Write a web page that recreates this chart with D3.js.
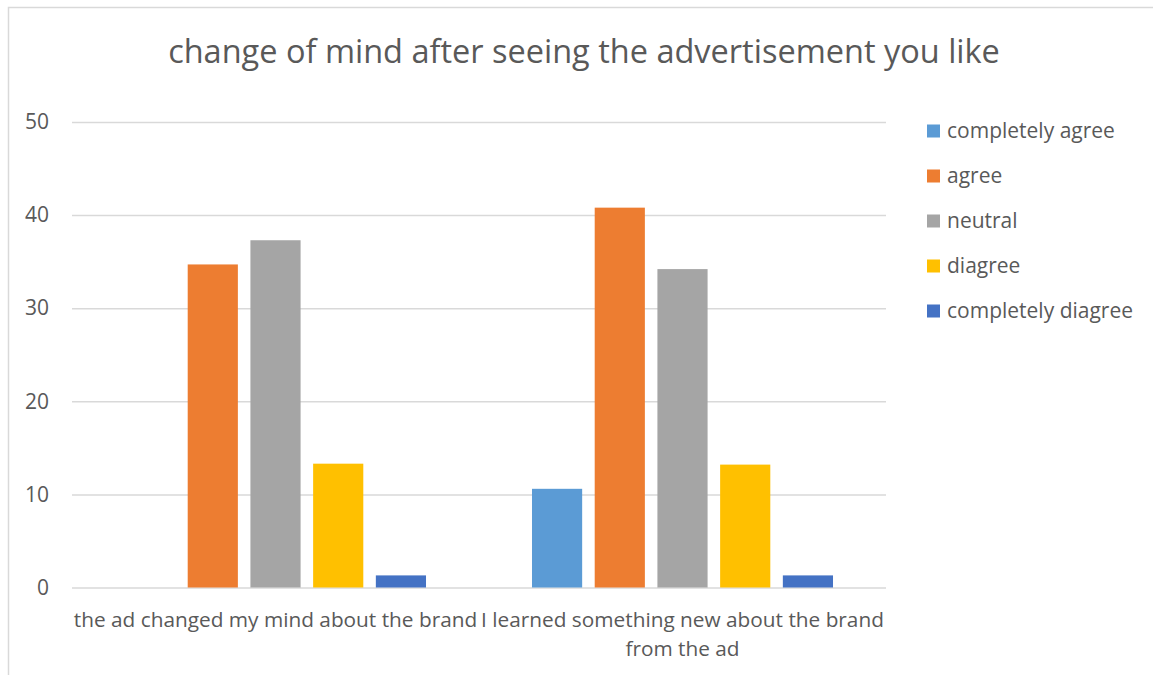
<!DOCTYPE html>
<html>
<head>
<meta charset="utf-8">
<script src="https://cdn.jsdelivr.net/npm/d3@7"></script>
<style>
  html, body { margin: 0; padding: 0; background: #fff; }
  svg { display: block; font-family: "Open Sans", "Noto Sans", sans-serif; }
</style>
</head>
<body>
<svg id="chart" width="1153" height="675"></svg>
<script>
// Survey statements on the x axis
const categories = [
  "the ad changed my mind about the brand",
  "I learned something new about the brand from the ad"
];
// Answer options (one bar each per statement)
const seriesNames = ["completely agree", "agree", "neutral", "diagree", "completely diagree"];
const seriesColors = ["#5B9BD5", "#ED7D31", "#A5A5A5", "#FFC000", "#4472C4"];
// Share of respondents per answer, one array per statement
const changedMindValues = [0, 34.7, 37.3, 13.3, 1.3];
const learnedNewValues = [10.6, 40.8, 34.2, 13.2, 1.3];
const yTicks = [0, 10, 20, 30, 40, 50];
const chartTitle = "change of mind after seeing the advertisement you like";

const valuesByCategory = [changedMindValues, learnedNewValues];

const svg = d3.select("#chart");
const textColor = "#595959";
const gridColor = "#D9D9D9";

// outer chart border (runs off the right and bottom edges)
svg.append("rect")
  .attr("x", 8.5).attr("y", 7.5)
  .attr("width", 1200).attr("height", 700)
  .attr("fill", "none").attr("stroke", gridColor).attr("stroke-width", 1.5);

const plot = { left: 72, right: 886, top: 122, bottom: 587.5 };

const x0 = d3.scaleBand().domain(categories).range([plot.left, plot.right]).padding(0);
const x1 = d3.scaleBand().domain(seriesNames).range([0, x0.bandwidth()])
  .paddingInner(0.2).paddingOuter(0.845);
const y = d3.scaleLinear().domain([0, 50]).range([plot.bottom, plot.top]);

// title
svg.append("text")
  .attr("x", 584).attr("y", 63)
  .attr("text-anchor", "middle")
  .attr("fill", textColor)
  .style("font-size", "32.5px")
  .text(chartTitle);

// horizontal gridlines + y labels via axis
const yAxis = d3.axisLeft(y).tickValues(yTicks).tickSize(-(plot.right - plot.left)).tickPadding(23);
const yG = svg.append("g").attr("transform", `translate(${plot.left},0)`).call(yAxis);
yG.select(".domain").remove();
yG.selectAll(".tick line").attr("stroke", gridColor).attr("stroke-width", 1.5);
yG.selectAll(".tick text")
  .attr("fill", textColor)
  .style("font-size", "21px")
  .style("font-family", "'Open Sans', sans-serif");

// bars
const groups = svg.append("g").selectAll("g")
  .data(categories)
  .join("g")
  .attr("transform", d => `translate(${x0(d)},0)`);

groups.selectAll("rect")
  .data((d, i) => seriesNames.map((s, j) => ({ s, v: valuesByCategory[i][j], c: seriesColors[j] })))
  .join("rect")
  .attr("x", d => x1(d.s))
  .attr("width", x1.bandwidth())
  .attr("y", d => y(d.v))
  .attr("height", d => y(0) - y(d.v))
  .attr("fill", d => d.c);

// category labels (wrapped to the band width)
const xAxis = d3.axisBottom(x0).tickSize(0).tickPadding(0);
const xG = svg.append("g").attr("transform", `translate(0,${plot.bottom})`).call(xAxis);
xG.select(".domain").remove();
xG.selectAll(".tick text")
  .attr("fill", textColor)
  .style("font-size", "20.8px")
  .style("font-family", "'Open Sans', sans-serif")
  .call(wrap, x0.bandwidth() + 8);

function wrap(sel, width) {
  sel.each(function () {
    const t = d3.select(this);
    const words = t.text().split(/\s+/);
    t.text(null);
    let line = [];
    let lineNo = 0;
    let tspan = t.append("tspan").attr("x", 0).attr("y", 39.5);
    for (const w of words) {
      line.push(w);
      tspan.text(line.join(" "));
      if (tspan.node().getComputedTextLength() > width && line.length > 1) {
        line.pop();
        tspan.text(line.join(" "));
        line = [w];
        lineNo++;
        tspan = t.append("tspan").attr("x", 0).attr("y", 39.5 + lineNo * 28.5).text(w);
      }
    }
    t.attr("dy", null);
  });
}

// legend
const legend = svg.append("g").selectAll("g")
  .data(seriesNames)
  .join("g")
  .attr("transform", (d, i) => `translate(927,${131 + i * 45})`);
legend.append("rect")
  .attr("x", 0).attr("y", -6.5)
  .attr("width", 13).attr("height", 13)
  .attr("fill", (d, i) => seriesColors[i]);
legend.append("text")
  .attr("x", 20).attr("y", 0).attr("dy", "0.35em")
  .attr("fill", textColor)
  .style("font-size", "21px")
  .text(d => d);
</script>
</body>
</html>
